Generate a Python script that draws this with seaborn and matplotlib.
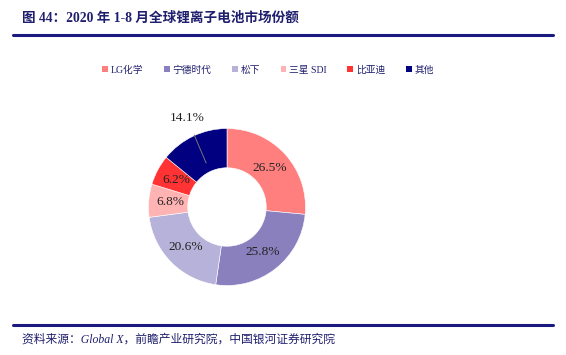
import matplotlib
matplotlib.use("Agg")
import matplotlib.pyplot as plt
import seaborn as sns
import numpy as np
from matplotlib.patches import Patch
from matplotlib.lines import Line2D

categories = ["LG化学", "宁德时代", "松下", "三星 SDI", "比亚迪", "其他"]
shares = [26.5, 25.8, 20.6, 6.8, 6.2, 14.1]
colors = ["#FF7F7F", "#8B80BE", "#B7B2D9", "#FFB3B3", "#FF3333", "#000080"]
title = "图 44：2020 年 1-8 月全球锂离子电池市场份额"
source = "资料来源：Global X，前瞻产业研究院，中国银河证券研究院"

sns.set_theme(style="white")
plt.rcParams['font.family'] = ['Liberation Serif', 'Noto Sans CJK SC', 'DejaVu Sans']

W, H = 566, 355
fig = plt.figure(figsize=(W / 100, H / 100), dpi=100)
fig.patch.set_facecolor("white")

navy = "#1F1F6E"
# title and rules
fig.text(22 / W, 1 - 18 / H, title, fontsize=9.8, fontweight="bold", color=navy,
         va="center", ha="left", family=['Liberation Serif', 'Noto Sans CJK SC'])
fig.add_artist(Line2D([13 / W, 553 / W], [1 - 35 / H, 1 - 35 / H], color="#1A1A80", lw=2.2))
fig.add_artist(Line2D([13 / W, 553 / W], [1 - 325 / H, 1 - 325 / H], color="#1A1A80", lw=2.2))
fig.text(22 / W, 1 - 340 / H, source, fontsize=8.5, color=navy, style="italic",
         va="center", ha="left", family=['Liberation Serif', 'Noto Sans CJK SC'])

# donut
cx, cy, R = 227, 207, 78.5
ax = fig.add_axes([(cx - R) / W, (H - cy - R) / H, 2 * R / W, 2 * R / H])
wedges, _ = ax.pie(shares, colors=colors, startangle=90, counterclock=False,
                   radius=1.0, wedgeprops=dict(width=0.5, edgecolor="white", linewidth=0.4))
ax.set_xlim(-1, 1)
ax.set_ylim(-1, 1)
ax.set_aspect("equal")
ax.axis("off")

cum = np.cumsum([0] + shares[:-1])
for i, (s, c0) in enumerate(zip(shares, cum)):
    mid = c0 + s / 2
    ang = np.deg2rad(90 - mid / 100 * 360)
    label = f"{s:.1f}%"
    if i == len(shares) - 1:
        px, py = np.cos(ang) * 0.62, np.sin(ang) * 0.62
        tx, ty = (187 - cx) / R, (cy - 118) / R
        ax.annotate(label, xy=(px, py), xytext=(tx, ty), ha="center", va="center",
                    fontsize=9.6, color="#222222",
                    arrowprops=dict(arrowstyle="-", color="#777777", lw=0.7,
                                    shrinkA=6, shrinkB=0))
    else:
        r = 0.73
        ax.text(np.cos(ang) * r, np.sin(ang) * r, label, ha="center", va="center",
                fontsize=9.6, color="#222222")

handles = [Patch(facecolor=c, edgecolor="none") for c in colors]
leg = fig.legend(handles, categories, loc="center", bbox_to_anchor=(268 / W, 1 - 70 / H),
                 ncol=6, frameon=False, handlelength=0.6, handleheight=0.6,
                 handletextpad=0.3, columnspacing=2.1,
                 prop=dict(family=['Liberation Serif', 'Noto Sans CJK SC'], size=7))
for t in leg.get_texts():
    t.set_color(navy)

fig.savefig("out.png", dpi=100, facecolor="white")
